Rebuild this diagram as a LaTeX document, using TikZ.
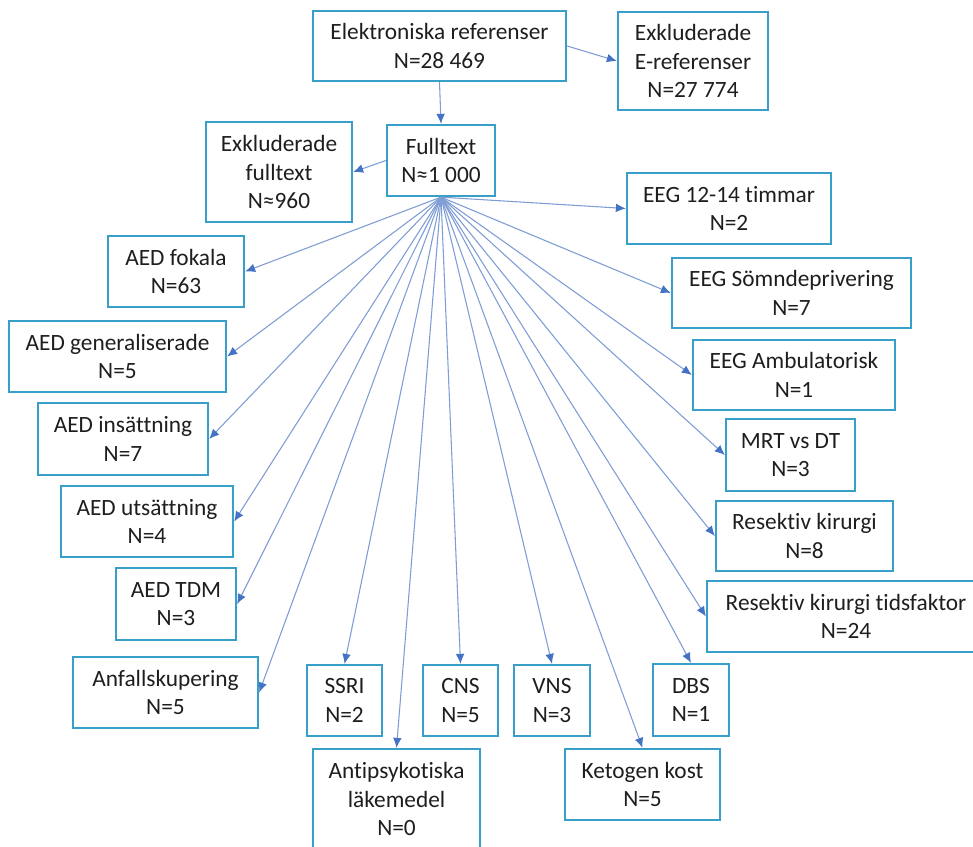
\documentclass[tikz,border=0pt]{standalone}
\usepackage{fontspec}
\setmainfont{Carlito}[Ligatures=CommonOff]
\usepackage{xcolor}
\usetikzlibrary{arrows.meta}
\definecolor{boxblue}{HTML}{38A0C8}
\definecolor{lineblue}{HTML}{7E9DD4}
\definecolor{tipblue}{HTML}{4472C4}
\definecolor{ink}{HTML}{1E1E1E}
\tikzset{
  box/.style={draw=boxblue, line width=1.7pt, fill=white, text=ink, align=center,
    inner sep=0pt, font=\fontsize{17.5}{21.5}\selectfont},
  wh/.style 2 args={minimum width=#1*0.75pt, minimum height=#2*0.75pt},
  arr/.style={draw=lineblue, line width=0.8pt,
    -{Latex[length=7.5pt, width=6.5pt, fill=tipblue, color=tipblue]}},
}

\begin{document}
\begin{tikzpicture}[x=0.75pt, y=-0.75pt]
  \clip (0,0) rectangle (973,846);
  \fill[white] (0,0) rectangle (973,846);
  % top of the tree
  \node[box, wh={253}{70}] (eref) at (439.5,46) {Elektroniska referenser\\N=28 469};
  \node[box, wh={150}{98}] (exe) at (693,61) {Exkluderade\\E-referenser\\N=27 774};
  \node[box, wh={108}{71}] (full) at (441,160.5) {Fulltext\\N≈1 000};
  \node[box, wh={146}{100}] (exf) at (279,172) {Exkluderade\\fulltext\\N≈960};
  % left column
  \node[box, wh={136}{71}] (fok) at (176,271.5) {AED fokala\\N=63};
  \node[box, wh={217}{71}] (gen) at (117.5,356.5) {AED generaliserade\\N=5};
  \node[box, wh={170}{72}] (ins) at (123,439) {AED insättning\\N=7};
  \node[box, wh={172}{71}] (uts) at (147,521.5) {AED utsättning\\N=4};
  \node[box, wh={120}{72}] (tdm) at (176,604) {AED TDM\\N=3};
  \node[box, wh={185}{71}] (anf) at (165.5,692.5) {Anfallskupering\\N=5};
  % bottom row
  \node[box, wh={75}{71}] (ssri) at (344.5,700.5) {SSRI\\N=2};
  \node[box, wh={75}{71}] (cns) at (460.5,700.5) {CNS\\N=5};
  \node[box, wh={76}{71}] (vns) at (552,700.5) {VNS\\N=3};
  \node[box, wh={76}{72}] (dbs) at (691,700) {DBS\\N=1};
  \node[box, wh={167}{100}] (anti) at (396.5,799) {Antipsykotiska\\läkemedel\\N=0};
  \node[box, wh={155}{71}] (keto) at (642.5,784.5) {Ketogen kost\\N=5};
  % right column
  \node[box, wh={204}{71}] (eeg12) at (729,208.5) {EEG 12-14 timmar\\N=2};
  \node[box, wh={239}{70}] (somn) at (791.5,293) {EEG Sömndeprivering\\N=7};
  \node[box, wh={202}{70}] (amb) at (794,375) {EEG Ambulatorisk\\N=1};
  \node[box, wh={129}{72}] (mrt) at (790.5,455) {MRT vs DT\\N=3};
  \node[box, wh={177}{70}] (res) at (804.5,536) {Resektiv kirurgi\\N=8};
  \node[box, wh={278}{71}] (rest) at (846,616.5) {Resektiv kirurgi tidsfaktor\\N=24};
  % connectors
  \draw[arr] (eref.east) -- (exe.west);
  \draw[arr] (eref.south) -- (full.north);
  \draw[arr] (full.west) -- (exf.east);
  \foreach \t in {fok.east, gen.east, ins.east, uts.east, tdm.east, anf.east,
      ssri.north, anti.north, cns.north, vns.north, keto.north, dbs.north,
      rest.west, res.west, mrt.west, amb.west, somn.west, eeg12.west}
    \draw[arr] (full.south) -- (\t);
\end{tikzpicture}
\end{document}
